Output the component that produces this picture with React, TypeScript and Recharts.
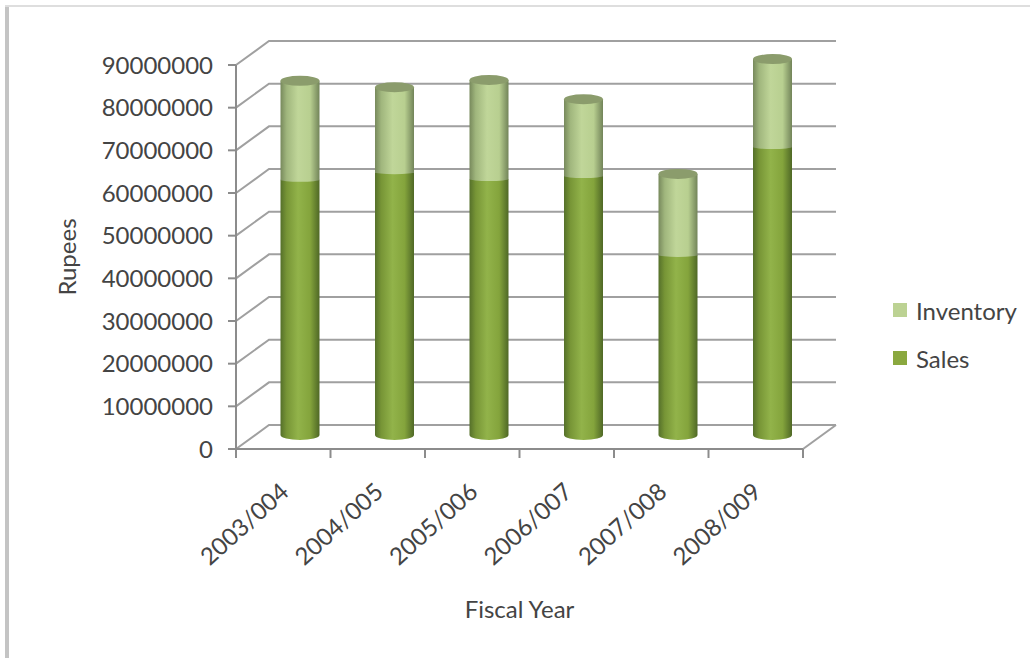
import { Bar, BarChart, CartesianGrid, Legend, XAxis, YAxis } from "recharts";

const years = ["2003/004", "2004/005", "2005/006", "2006/007", "2007/008", "2008/009"];
const sales = [59800000, 61600000, 60000000, 60700000, 42200000, 67500000];
const inventory = [23200000, 19900000, 23200000, 18000000, 19000000, 20600000];
const valueTicks = [0, 10000000, 20000000, 30000000, 40000000, 50000000, 60000000, 70000000, 80000000, 90000000];

const data = years.map((year, i) => ({ year, Sales: sales[i], Inventory: inventory[i] }));

const FONT = "Lato, sans-serif";
const TEXT = "#444444";
const AXIS = "#8c8c8c";
const GRID = "#a0a0a0";

const WIDTH = 1034;
const HEIGHT = 658;
const LEFT = 236;
const RIGHT = 803;
const TOP = 65;
const BOTTOM = 449;
const BAND = (RIGHT - LEFT) / years.length;

// how far the back wall sits from the front plane
const DEPTH_X = 33;
const DEPTH_Y = 24;
// cylinders stand in the middle of the floor
const BAR_DX = 16.5;
const BAR_DY = 14;
const RY = 5;

function WallLine({ x1, x2, y1 }: any) {
    const path = `M${x1} ${y1}L${x1 + DEPTH_X} ${y1 - DEPTH_Y}L${x2 + DEPTH_X} ${y1 - DEPTH_Y}`;
    return (
        <g key={y1}>
            <path d={path} fill="none" stroke={GRID} strokeWidth={2} />
            {y1 === BOTTOM && (
                <line x1={x2} y1={y1} x2={x2 + DEPTH_X} y2={y1 - DEPTH_Y} stroke={GRID} strokeWidth={2} />
            )}
        </g>
    );
}

function SalesCylinder({ x, y, width, height }: any) {
    const left = x + BAR_DX;
    const right = left + width;
    const top = y - BAR_DY;
    const bottom = top + height;
    const d = `M${left} ${top}L${right} ${top}L${right} ${bottom}A${width / 2} ${RY} 0 0 1 ${left} ${bottom}Z`;
    return <path d={d} fill="url(#salesBody)" />;
}

function InventoryCylinder({ x, y, width, height }: any) {
    const left = x + BAR_DX;
    const right = left + width;
    const top = y - BAR_DY;
    const bottom = top + height;
    const d = `M${left} ${top}L${left} ${bottom}A${width / 2} 2 0 0 0 ${right} ${bottom}L${right} ${top}Z`;
    return (
        <g>
            <path d={d} fill="url(#inventoryBody)" />
            <ellipse cx={left + width / 2} cy={top} rx={width / 2} ry={RY} fill="#8b9c6c" />
        </g>
    );
}

function YearTick({ x, y, payload, index }: any) {
    return (
        <g>
            <line x1={x + BAND / 2} y1={BOTTOM} x2={x + BAND / 2} y2={BOTTOM + 9} stroke={AXIS} strokeWidth={2} />
            {index === 0 && (
                <line x1={x - BAND / 2} y1={BOTTOM} x2={x - BAND / 2} y2={BOTTOM + 9} stroke={AXIS} strokeWidth={2} />
            )}
            <text
                x={x + 7}
                y={y + 37}
                textAnchor="end"
                transform={`rotate(-42 ${x + 7} ${y + 37})`}
                fontSize={24}
                fontFamily={FONT}
                fill={TEXT}
            >
                {payload.value}
            </text>
        </g>
    );
}

function RupeesLabel({ viewBox }: any) {
    const cy = viewBox.y + viewBox.height / 2;
    return (
        <text
            x={66}
            y={cy}
            textAnchor="middle"
            dominantBaseline="central"
            transform={`rotate(-90 66 ${cy})`}
            fontSize={24}
            fontFamily={FONT}
            fill={TEXT}
        >
            Rupees
        </text>
    );
}

function LegendList({ payload }: any) {
    return (
        <div>
            {(payload || []).map((item: any) => (
                <div key={item.value} style={{ display: "flex", alignItems: "center", height: 48 }}>
                    <span style={{ width: 14, height: 14, background: item.color, marginRight: 9 }} />
                    <span style={{ fontFamily: FONT, fontSize: 24, color: TEXT }}>{item.value}</span>
                </div>
            ))}
        </div>
    );
}

export default function App() {
    return (
        <div style={{ position: "absolute", left: 0, top: 0, width: WIDTH, height: HEIGHT, background: "#fff" }}>
            <div style={{ position: "absolute", left: 5, top: 5, width: 4, height: HEIGHT - 5, background: "#c4c4c4" }} />
            <div style={{ position: "absolute", left: 5, top: 5, width: WIDTH - 9, height: 2, background: "#dedede" }} />
            <BarChart
                width={WIDTH}
                height={HEIGHT}
                data={data}
                margin={{ top: TOP, right: WIDTH - RIGHT, bottom: 0, left: 0 }}
                barSize={39}
                style={{ position: "absolute", left: 0, top: 0 }}
            >
                <defs>
                    <linearGradient id="salesBody" x1="0" y1="0" x2="1" y2="0">
                        <stop offset="0" stopColor="#55702a" />
                        <stop offset="0.16" stopColor="#779536" />
                        <stop offset="0.45" stopColor="#92b34a" />
                        <stop offset="0.76" stopColor="#84a43c" />
                        <stop offset="1" stopColor="#4f6826" />
                    </linearGradient>
                    <linearGradient id="inventoryBody" x1="0" y1="0" x2="1" y2="0">
                        <stop offset="0" stopColor="#77895c" />
                        <stop offset="0.16" stopColor="#a0b67d" />
                        <stop offset="0.45" stopColor="#c0d699" />
                        <stop offset="0.76" stopColor="#b8cf90" />
                        <stop offset="1" stopColor="#728459" />
                    </linearGradient>
                </defs>
                <CartesianGrid vertical={false} horizontal={(props: any) => <WallLine {...props} />} />
                <XAxis
                    dataKey="year"
                    height={HEIGHT - BOTTOM}
                    interval={0}
                    axisLine={{ stroke: AXIS, strokeWidth: 2 }}
                    tickLine={false}
                    tick={<YearTick />}
                    label={{
                        value: "Fiscal Year",
                        position: "insideBottom",
                        offset: 40,
                        fontSize: 24,
                        fontFamily: FONT,
                        fill: TEXT,
                    }}
                />
                <YAxis
                    width={LEFT}
                    domain={[0, 90000000]}
                    ticks={valueTicks}
                    interval={0}
                    axisLine={{ stroke: AXIS, strokeWidth: 2 }}
                    tickLine={{ stroke: AXIS, strokeWidth: 2 }}
                    tickSize={8}
                    tickMargin={15}
                    tick={{ fontSize: 24, fontFamily: FONT, fill: TEXT }}
                    label={{ content: (props: any) => <RupeesLabel {...props} /> }}
                />
                <Legend
                    layout="vertical"
                    align="center"
                    verticalAlign="middle"
                    content={<LegendList />}
                    wrapperStyle={{ position: "absolute", left: 893, top: 286, width: 140, height: 96 }}
                />
                <Bar dataKey="Sales" stackId="total" fill="#8aa83f" shape={<SalesCylinder />} isAnimationActive={false} />
                <Bar dataKey="Inventory" stackId="total" fill="#bcd293" shape={<InventoryCylinder />} isAnimationActive={false} />
            </BarChart>
        </div>
    );
}
